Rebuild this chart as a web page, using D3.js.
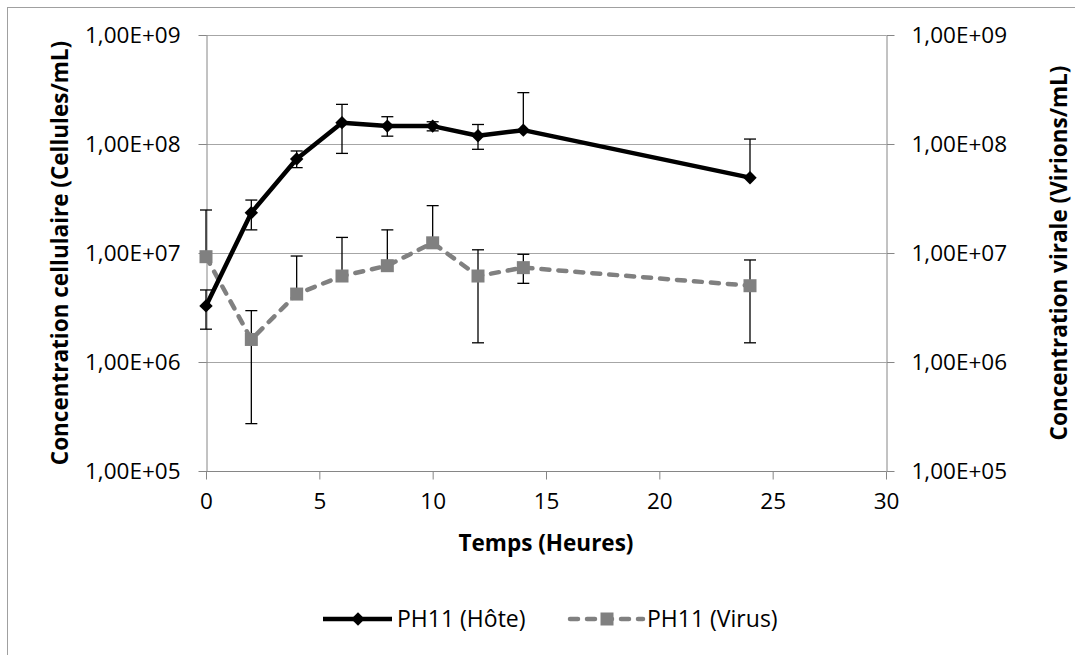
<!DOCTYPE html>
<html>
<head>
<meta charset="utf-8">
<script src="https://cdn.jsdelivr.net/npm/d3@7"></script>
<style>
  html, body { margin: 0; padding: 0; background: #fff; }
  svg { display: block; font-family: "Open Sans", sans-serif; }
</style>
</head>
<body>
<svg id="chart" width="1075" height="655"></svg>
<script>
// ---- data ----
const times = [0, 2, 4, 6, 8, 10, 12, 14, 24];
const hostValues = [3.27e6, 2.34e7, 7.28e7, 1.57e8, 1.46e8, 1.46e8, 1.19e8, 1.34e8, 4.91e7];
const hostHigh   = [4.58e6, 3.06e7, 8.63e7, 2.31e8, 1.78e8, 1.60e8, 1.51e8, 2.96e8, 1.11e8];
const hostLow    = [2.0e6, 1.63e7, 6.07e7, 8.2e7, 1.18e8, 1.32e8, 8.94e7, null, null];
const virusValues = [9.25e6, 1.61e6, 4.2e6, 6.15e6, 7.65e6, 1.24e7, 6.15e6, 7.34e6, 5.01e6];
const virusHigh   = [2.48e7, 2.96e6, 9.38e6, 1.39e7, 1.63e7, 2.72e7, 1.07e7, 9.73e6, 8.63e6];
const virusLow    = [null, 2.72e5, null, null, null, null, 1.5e6, 5.27e6, 1.5e6];
const xTicks = [0, 5, 10, 15, 20, 25, 30];
const yTicks = [1e5, 1e6, 1e7, 1e8, 1e9];
const yTickLabels = ["1,00E+05", "1,00E+06", "1,00E+07", "1,00E+08", "1,00E+09"];
const seriesNames = ["PH11 (Hôte)", "PH11 (Virus)"];
const xTitle = "Temps (Heures)";
const yLeftTitle = "Concentration cellulaire (Cellules/mL)";
const yRightTitle = "Concentration virale (Virions/mL)";

// ---- layout ----
const svg = d3.select("#chart");
const pL = 206, pR = 886, pT = 35, pB = 471;
const x = d3.scaleLinear().domain([0, 30]).range([pL, pR]);
const yL = d3.scaleLog().domain([1e5, 1e9]).range([pB, pT]);
const yR = d3.scaleLog().domain([1e5, 1e9]).range([pB, pT]);

const gridColor = "#a6a6a6", axisColor = "#868686";

// chart frame
svg.append("rect").attr("x", 7.5).attr("y", 7.5).attr("width", 1100).attr("height", 700)
  .attr("fill", "none").attr("stroke", "#a0a0a0").attr("stroke-width", 1);

// gridlines
svg.append("g").selectAll("line").data(yTicks).join("line")
  .attr("x1", pL).attr("x2", pR)
  .attr("y1", d => Math.round(yL(d)) + 0.5).attr("y2", d => Math.round(yL(d)) + 0.5)
  .attr("stroke", gridColor).attr("stroke-width", 1);

const fmt = d => yTickLabels[yTicks.indexOf(d)];
function styleAxis(g) {
  g.select(".domain").attr("stroke", axisColor).attr("stroke-width", 1);
  g.selectAll(".tick line").attr("stroke", axisColor);
  g.selectAll("text").attr("fill", "#000").style("font-family", "'Open Sans', sans-serif")
    .style("font-size", "22.5px");
}

// left axis
svg.append("g").attr("transform", `translate(${pL + 0.5},0)`)
  .call(d3.axisLeft(yL).tickValues(yTicks).tickFormat(fmt).tickSize(8).tickSizeOuter(0).tickPadding(18))
  .call(styleAxis)
  .call(g => g.selectAll("text").attr("dy", "0.35em"));

// right axis
svg.append("g").attr("transform", `translate(${pR + 0.5},0)`)
  .call(d3.axisRight(yR).tickValues(yTicks).tickFormat(fmt).tickSize(8).tickSizeOuter(0).tickPadding(17))
  .call(styleAxis)
  .call(g => g.selectAll("text").attr("dy", "0.35em"));

// bottom axis
svg.append("g").attr("transform", `translate(0,${pB + 0.5})`)
  .call(d3.axisBottom(x).tickValues(xTicks).tickFormat(d3.format("d")).tickSize(8).tickSizeOuter(0).tickPadding(14))
  .call(styleAxis)
  .call(g => g.select(".domain").remove());
svg.append("line").attr("x1", pL).attr("x2", pR)
  .attr("y1", pB + 0.5).attr("y2", pB + 0.5).attr("stroke", axisColor);

// axis titles
svg.append("text").attr("x", (pL + pR) / 2).attr("y", 551)
  .attr("text-anchor", "middle").style("font-weight", "bold").style("font-size", "22.5px")
  .text(xTitle);
svg.append("text").attr("transform", `translate(59,${(pT + pB) / 2}) rotate(-90)`)
  .attr("text-anchor", "middle").attr("dominant-baseline", "central")
  .style("font-weight", "bold").style("font-size", "22.5px").text(yLeftTitle);
svg.append("text").attr("transform", `translate(1058,${(pT + pB) / 2}) rotate(-90)`)
  .attr("text-anchor", "middle").attr("dominant-baseline", "central")
  .style("font-weight", "bold").style("font-size", "22.5px").text(yRightTitle);

// ---- series ----
const host = times.map((t, i) => ({ t, v: hostValues[i], hi: hostHigh[i], lo: hostLow[i] }));
const virus = times.map((t, i) => ({ t, v: virusValues[i], hi: virusHigh[i], lo: virusLow[i] }));

function errorBars(data, yScale) {
  const g = svg.append("g").attr("stroke", "#000").attr("stroke-width", 1.3);
  data.forEach(d => {
    const cx = x(d.t), cy = yScale(d.v);
    const yh = yScale(d.hi);
    g.append("line").attr("x1", cx).attr("x2", cx).attr("y1", cy).attr("y2", yh);
    g.append("line").attr("x1", cx - 6).attr("x2", cx + 6).attr("y1", yh).attr("y2", yh);
    if (d.lo != null) {
      const yl = yScale(d.lo);
      g.append("line").attr("x1", cx).attr("x2", cx).attr("y1", cy).attr("y2", yl);
      g.append("line").attr("x1", cx - 6).attr("x2", cx + 6).attr("y1", yl).attr("y2", yl);
    }
  });
}

errorBars(virus, yR);
errorBars(host, yL);

// virus line (behind host)
svg.append("path").datum(virus)
  .attr("d", d3.line().x(d => x(d.t)).y(d => yR(d.v)))
  .attr("fill", "none").attr("stroke", "#808080").attr("stroke-width", 4.5)
  .attr("stroke-dasharray", "8,9").attr("stroke-linecap", "round").attr("stroke-linejoin", "round");
svg.append("g").selectAll("rect").data(virus).join("rect")
  .attr("x", d => x(d.t) - 6.5).attr("y", d => yR(d.v) - 6.5)
  .attr("width", 13).attr("height", 13).attr("fill", "#808080");

// host line
svg.append("path").datum(host)
  .attr("d", d3.line().x(d => x(d.t)).y(d => yL(d.v)))
  .attr("fill", "none").attr("stroke", "#000").attr("stroke-width", 4.5)
  .attr("stroke-linejoin", "round");
svg.append("g").selectAll("path").data(host).join("path")
  .attr("transform", d => `translate(${x(d.t)},${yL(d.v)}) rotate(45)`)
  .attr("d", d3.symbol().type(d3.symbolSquare).size(90)).attr("fill", "#000");

// ---- legend ----
const lg = svg.append("g");
const ly = 619;
lg.append("line").attr("x1", 323).attr("x2", 392).attr("y1", ly).attr("y2", ly)
  .attr("stroke", "#000").attr("stroke-width", 4.5);
lg.append("path").attr("transform", `translate(358,${ly}) rotate(45)`)
  .attr("d", d3.symbol().type(d3.symbolSquare).size(90)).attr("fill", "#000");
lg.append("text").attr("x", 397).attr("y", ly).attr("dy", "0.35em")
  .style("font-size", "23px").text(seriesNames[0]);

lg.append("line").attr("x1", 570).attr("x2", 643).attr("y1", ly).attr("y2", ly)
  .attr("stroke", "#808080").attr("stroke-width", 4.5)
  .attr("stroke-dasharray", "8,9").attr("stroke-linecap", "round");
lg.append("rect").attr("x", 607 - 6.5).attr("y", ly - 6.5).attr("width", 13).attr("height", 13)
  .attr("fill", "#808080");
lg.append("text").attr("x", 647).attr("y", ly).attr("dy", "0.35em")
  .style("font-size", "23px").text(seriesNames[1]);
</script>
</body>
</html>
